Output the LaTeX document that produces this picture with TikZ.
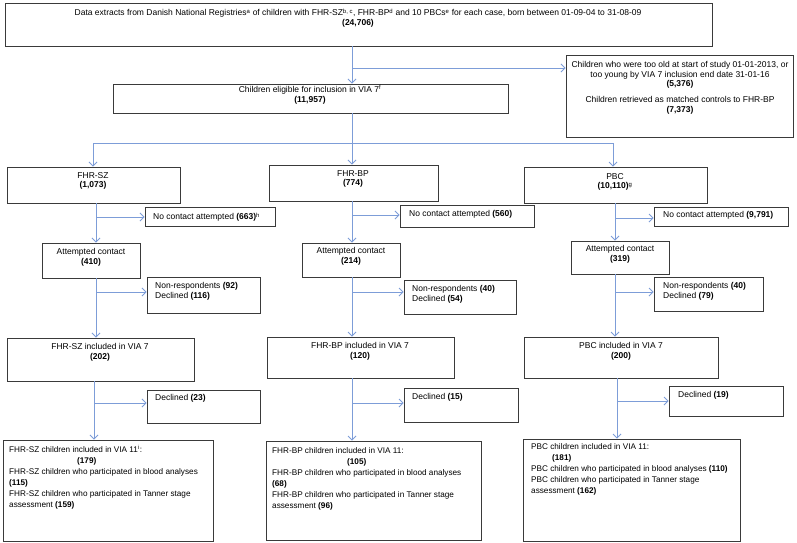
\documentclass[tikz,border=0pt]{standalone}
\usepackage{fontspec}
\setmainfont{Liberation Sans}
\usetikzlibrary{arrows.meta,fit}
\definecolor{boxc}{HTML}{3A3A3A}
\definecolor{arrc}{HTML}{7D9DD8}
\newcommand{\bx}[5]{\node[box, fit={(#2,#3)(#4,#5)}] (#1) {};}
\begin{document}
\begin{tikzpicture}[x=1pt,y=-1pt,
  box/.style={draw=boxc, line width=0.9pt, inner sep=0pt},
  con/.style={draw=arrc, line width=0.8pt},
  arr/.style={con, -{Straight Barb[length=4pt,width=8pt]}},
  txt/.style={inner sep=0pt, font=\fontsize{8.5}{9.8}\selectfont, align=center, anchor=north},
  ltxt/.style={txt, align=left, anchor=north west},
  ftxt/.style={ltxt, font=\fontsize{8.2}{11}\selectfont}]
\useasboundingbox (0,0) rectangle (797,542);
% boxes
\bx{top}{5}{3}{712}{46}
\bx{excl}{566}{55}{793}{137}
\bx{via7}{113}{84}{508}{113}
\bx{sz}{7}{167}{180}{203}
\bx{bp}{269}{165}{438}{201}
\bx{pbc}{524}{167}{707}{203}
\bx{nca}{145}{207}{275}{226}
\bx{ncb}{400}{205}{534}{227}
\bx{ncc}{654}{207}{788}{226}
\bx{atta}{42}{243}{140}{278}
\bx{attb}{302}{243}{400}{277}
\bx{attc}{571}{241}{669}{274}
\bx{nra}{147}{277}{260}{313}
\bx{nrb}{404}{280}{516}{314}
\bx{nrc}{654}{277}{763}{311}
\bx{inca}{7}{338}{194}{381}
\bx{incb}{267}{337}{454}{378}
\bx{incc}{524}{337}{718}{378}
\bx{deca}{147}{390}{260}{423}
\bx{decb}{404}{388}{518}{422}
\bx{decc}{669}{386}{783}{416}
\bx{fina}{3}{440}{213}{541}
\bx{finb}{266}{441}{481}{540}
\bx{finc}{523}{439}{740}{541}
% texts
\node[txt] at (358,8.5) {Data extracts from Danish National Registries\textsuperscript{a} of children with FHR-SZ\textsuperscript{b, c}, FHR-BP\textsuperscript{d} and 10 PBCs\textsuperscript{e} for each case, born between 01-09-04 to 31-08-09\\\textbf{(24,706)}};
\node[txt] at (680,61) {Children who were too old at start of study 01-01-2013, or\\too young by VIA 7 inclusion end date 31-01-16\\\textbf{(5,376)}};
\node[txt] at (680,96) {Children retrieved as matched controls to FHR-BP\\\textbf{(7,373)}};
\node[txt] at (310,85) {Children eligible for inclusion in VIA 7\textsuperscript{f}\\\textbf{(11,957)}};
\node[txt] at (93,172) {FHR-SZ\\\textbf{(1,073)}};
\node[txt] at (353,170) {FHR-BP\\\textbf{(774)}};
\node[txt] at (615,173) {PBC\\\textbf{(10,110)}\textsuperscript{g}};
\node[ltxt] at (153,212.5) {No contact attempted \textbf{(663)}\textsuperscript{h}};
\node[ltxt] at (409,210.5) {No contact attempted \textbf{(560)}};
\node[ltxt] at (663,211.5) {No contact attempted \textbf{(9,791)}};
\node[txt] at (91,248.5) {Attempted contact\\\textbf{(410)}};
\node[txt] at (351,247.5) {Attempted contact\\\textbf{(214)}};
\node[txt] at (620,245) {Attempted contact\\\textbf{(319)}};
\node[ltxt] at (155,282) {Non-respondents \textbf{(92)}\\Declined \textbf{(116)}};
\node[ltxt] at (412,285) {Non-respondents \textbf{(40)}\\Declined \textbf{(54)}};
\node[ltxt] at (663,282) {Non-respondents \textbf{(40)}\\Declined \textbf{(79)}};
\node[txt] at (100,343) {FHR-SZ included in VIA 7\\\textbf{(202)}};
\node[txt] at (360,342) {FHR-BP included in VIA 7\\\textbf{(120)}};
\node[txt] at (621,342) {PBC included in VIA 7\\\textbf{(200)}};
\node[ltxt] at (155,394) {Declined \textbf{(23)}};
\node[ltxt] at (412,393) {Declined \textbf{(15)}};
\node[ltxt] at (678,391) {Declined \textbf{(19)}};
\node[ftxt] at (9,445.5) {FHR-SZ children included in VIA 11\textsuperscript{i}:\\\hspace*{68pt}\textbf{(179)}\\FHR-SZ children who participated in blood analyses\\\textbf{(115)}\\FHR-SZ children who participated in Tanner stage\\assessment \textbf{(159)}};
\node[ftxt] at (272,447.5) {FHR-BP children included in VIA 11:\\\hspace*{75pt}\textbf{(105)}\\FHR-BP children who participated in blood analyses\\\textbf{(68)}\\FHR-BP children who participated in Tanner stage\\assessment \textbf{(96)}};
\node[ftxt] at (531,443.5) {PBC children included in VIA 11:\\\hspace*{21pt}\textbf{(181)}\\PBC children who participated in blood analyses \textbf{(110)}\\PBC children who participated in Tanner stage\\assessment \textbf{(162)}};
% connectors: top
\coordinate (j0) at (352,68);
\draw[arr] (352,0 |- top.south) -- (352,0 |- via7.north);
\draw[arr] (j0) -- (excl.west |- j0);
\coordinate (jl) at (93,143);
\coordinate (jm) at (352,143);
\coordinate (jr) at (613,143);
\draw[con] (352,0 |- via7.south) -- (jm);
\draw[con] (jl) -- (jr);
\draw[arr] (jl) -- (jl |- sz.north);
\draw[arr] (jm) -- (jm |- bp.north);
\draw[arr] (jr) -- (jr |- pbc.north);
% column 1
\coordinate (a1) at (96,217);
\coordinate (a2) at (96,292);
\coordinate (a3) at (94,403);
\draw[arr] (a1 |- sz.south) -- (a1 |- atta.north);
\draw[arr] (a1) -- (nca.west |- a1);
\draw[arr] (a2 |- atta.south) -- (a2 |- inca.north);
\draw[arr] (a2) -- (nra.west |- a2);
\draw[arr] (a3 |- inca.south) -- (a3 |- fina.north);
\draw[arr] (a3) -- (deca.west |- a3);
% column 2
\coordinate (b1) at (352,215);
\coordinate (b2) at (352,292);
\coordinate (b3) at (352,403);
\draw[arr] (b1 |- bp.south) -- (b1 |- attb.north);
\draw[arr] (b1) -- (ncb.west |- b1);
\draw[arr] (b2 |- attb.south) -- (b2 |- incb.north);
\draw[arr] (b2) -- (nrb.west |- b2);
\draw[arr] (b3 |- incb.south) -- (b3 |- finb.north);
\draw[arr] (b3) -- (decb.west |- b3);
% column 3
\coordinate (c1) at (615,218);
\coordinate (c2) at (615,292);
\coordinate (c3) at (617,401);
\draw[arr] (c1 |- pbc.south) -- (c1 |- attc.north);
\draw[arr] (c1) -- (ncc.west |- c1);
\draw[arr] (c2 |- attc.south) -- (c2 |- incc.north);
\draw[arr] (c2) -- (nrc.west |- c2);
\draw[arr] (c3 |- incc.south) -- (c3 |- finc.north);
\draw[arr] (c3) -- (decc.west |- c3);
\end{tikzpicture}
\end{document}
